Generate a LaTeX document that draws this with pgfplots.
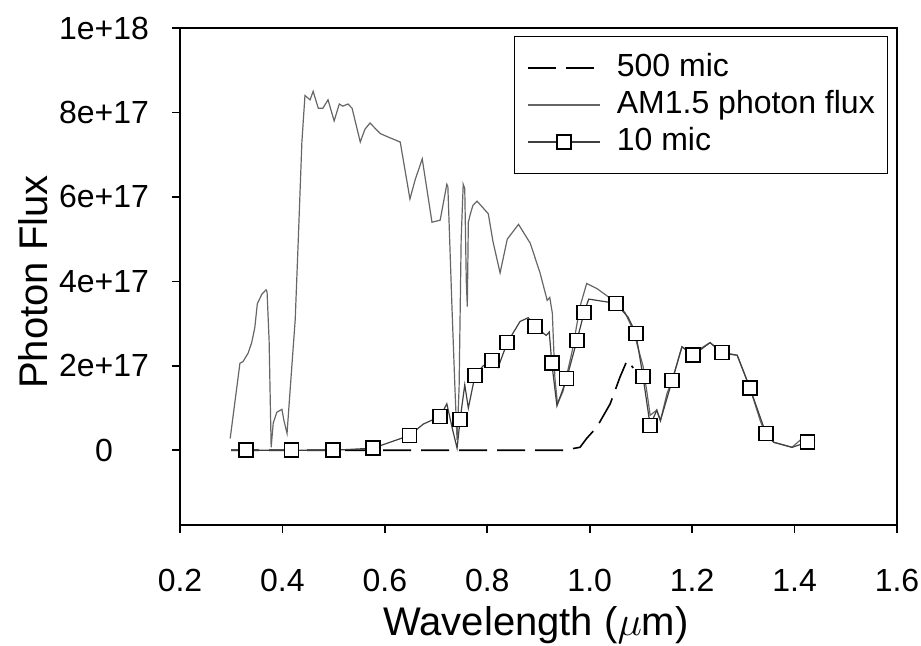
\documentclass[border=0pt]{standalone}
\usepackage{pgfplots}
\pgfplotsset{compat=1.18}
\usepackage{fontspec}
\setmainfont{Liberation Sans}

% AM1.5 solar photon flux (wavelength in um, flux in photons)
\pgfplotstableread{
x y
0.298 0.28e17
0.317 2.06e17
0.323 2.10e17
0.333 2.30e17
0.340 2.55e17
0.346 2.90e17
0.351 3.47e17
0.360 3.70e17
0.368 3.80e17
0.370 3.75e17
0.374 2.60e17
0.378 0.07e17
0.382 0.64e17
0.389 0.90e17
0.399 0.97e17
0.403 0.70e17
0.409 0.40e17
0.415 1.42e17
0.425 3.10e17
0.431 5.00e17
0.438 7.30e17
0.444 8.40e17
0.454 8.30e17
0.460 8.50e17
0.470 8.10e17
0.479 8.10e17
0.489 8.30e17
0.501 7.80e17
0.511 8.20e17
0.518 8.15e17
0.528 8.20e17
0.536 8.10e17
0.552 7.30e17
0.561 7.60e17
0.571 7.75e17
0.591 7.50e17
0.610 7.40e17
0.630 7.30e17
0.649 5.95e17
0.659 6.40e17
0.673 6.90e17
0.692 5.40e17
0.708 5.45e17
0.721 6.30e17
0.723 6.25e17
0.731 3.40e17
0.737 1.42e17
0.741 0.24e17
0.745 1.50e17
0.749 5.00e17
0.753 6.30e17
0.756 6.20e17
0.759 4.00e17
0.761 3.40e17
0.763 5.40e17
0.767 5.60e17
0.772 5.80e17
0.780 5.90e17
0.802 5.60e17
0.811 4.95e17
0.825 4.20e17
0.839 5.00e17
0.861 5.35e17
0.884 4.90e17
0.903 4.20e17
0.917 3.55e17
0.922 3.62e17
0.927 3.25e17
0.932 1.72e17
0.937 1.10e17
0.948 1.40e17
0.966 2.36e17
0.981 3.40e17
0.994 3.95e17
1.014 3.83e17
1.046 3.55e17
1.069 3.26e17
1.085 2.84e17
1.104 2.00e17
1.112 1.35e17
1.118 0.83e17
1.131 0.95e17
1.138 0.70e17
1.151 1.35e17
1.161 1.65e17
1.180 2.45e17
1.202 2.30e17
1.235 2.55e17
1.258 2.30e17
1.288 2.25e17
1.313 1.47e17
1.333 0.70e17
1.342 0.43e17
1.359 0.19e17
1.395 0.07e17
1.411 0.24e17
1.437 0.31e17
}\amflux

% Absorbed photon flux, 10 micron thick cell
\pgfplotstableread{
x y
0.300 0
0.329 0
0.418 0
0.499 0
0.577 0.05e17
0.648 0.35e17
0.675 0.62e17
0.708 0.80e17
0.721 1.10e17
0.732 0.50e17
0.741 0.05e17
0.747 0.73e17
0.756 1.55e17
0.763 1.00e17
0.776 1.77e17
0.792 2.00e17
0.809 2.13e17
0.821 1.96e17
0.839 2.55e17
0.864 3.05e17
0.880 3.14e17
0.893 2.93e17
0.915 2.72e17
0.921 2.80e17
0.926 2.06e17
0.936 1.05e17
0.955 1.70e17
0.975 2.60e17
0.989 3.26e17
0.998 3.58e17
1.051 3.48e17
1.075 3.15e17
1.090 2.77e17
1.104 1.75e17
1.118 0.59e17
1.131 0.95e17
1.138 0.70e17
1.161 1.65e17
1.180 2.45e17
1.202 2.25e17
1.235 2.55e17
1.258 2.32e17
1.288 2.25e17
1.313 1.47e17
1.344 0.40e17
1.359 0.19e17
1.395 0.07e17
1.425 0.19e17
1.440 0.25e17
}\tenmic

% Absorbed photon flux, 500 micron thick cell
\pgfplotstableread{
x y
0.300 0
0.950 0
0.962 0.03e17
0.981 0.07e17
0.994 0.28e17
1.014 0.55e17
1.040 1.10e17
1.059 1.73e17
1.073 2.13e17
1.085 1.95e17
}\fivehundredmic

\begin{document}
\begin{tikzpicture}
\begin{axis}[
  scale only axis,
  width=358.5pt, height=248.5pt,
  xmin=0.2, xmax=1.6,
  ymin=-1.77e17, ymax=1e18,
  scaled y ticks=false,
  xtick={0.2,0.4,0.6,0.8,1.0,1.2,1.4,1.6},
  xticklabels={0.2,0.4,0.6,0.8,1.0,1.2,1.4,1.6},
  ytick={0,2e17,4e17,6e17,8e17,1e18},
  yticklabels={0,2e+17,4e+17,6e+17,8e+17,1e+18},
  tick pos=left,
  tick align=outside,
  major tick length=4pt,
  axis line style={line width=0.9pt},
  tick style={line width=0.8pt, black},
  ticklabel style={font=\fontsize{16}{19}\selectfont},
  xticklabel style={yshift=-14.5pt},
  yticklabel style={anchor=center, xshift=-34pt},
  xlabel={Wavelength ($\mu$m)},
  ylabel={Photon Flux},
  label style={font=\fontsize{20}{24}\selectfont},
  xlabel style={at={(axis description cs:0.4965,-0.201)}, anchor=center},
  ylabel style={at={(axis description cs:-0.205,0.489)}, anchor=center},
  legend style={at={(rel axis cs:0.988,0.984)}, anchor=north east,
    draw=black, line width=0.6pt, inner xsep=6.5pt, inner ysep=8pt,
    font=\fontsize{16}{19}\selectfont, row sep=3pt, column sep=8pt,
    nodes={inner sep=0pt, text height=12pt, text depth=3.5pt}},
  legend cell align=left,
  legend image code/.code={
    \draw[#1, mark indices={2}]
      plot coordinates {(0pt,0pt) (18pt,0pt) (36pt,0pt)};},
]
\addplot[black, line width=0.8pt, dash pattern=on 14pt off 5pt]
  table[x=x, y=y] {\fivehundredmic};
\addlegendentry{500 mic}
\addplot[black!60, line width=0.6pt]
  table[x=x, y=y] {\amflux};
\addlegendentry{AM1.5 photon flux}
\addplot[black!75, line width=0.6pt, mark=square*,
  mark size=3.5pt,
  mark options={fill=white, draw=black, line width=0.8pt, solid},
  mark indices={2,3,4,5,6,8,12,15,17,19,22,25,27,28,29,31,33,34,35,38,40,42,44,45,48}]
  table[x=x, y=y] {\tenmic};
\addlegendentry{10 mic}
\end{axis}
\pgfresetboundingbox
\path[use as bounding box] (-90pt,-60pt) rectangle (370.5pt,262.5pt);
\end{tikzpicture}
\end{document}
